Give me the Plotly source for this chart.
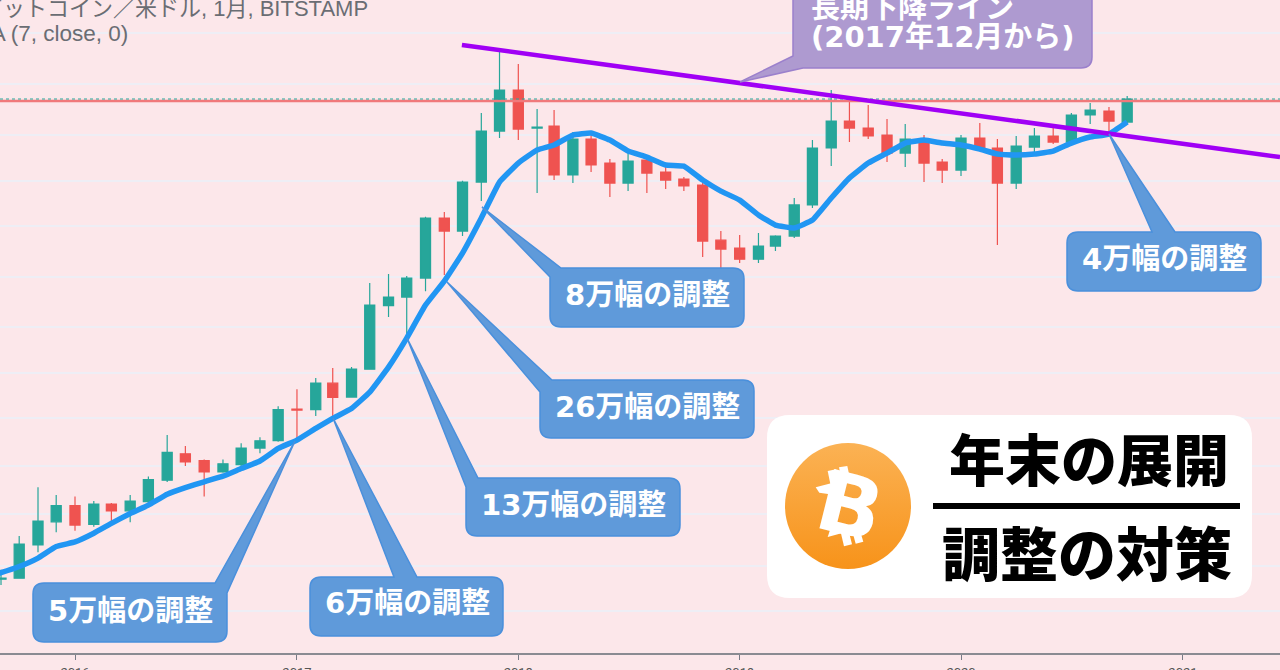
import math
import pandas as pd
import plotly.graph_objects as go

# ---- data (BTC/USD monthly) ----
first_month = "2015-09-01"
opens = [233,235,310,376,430,368,436,412,445,532,663,626,570,606,695,740,
         962,958,1194,1063,1342,2280,2447,2867,4727,4241,6380,9761,
         13737,10010,10178,6769,9129,7475,6327,7663,6935,6540,6227,3933,
         3681,3357,3743,4068,5272,8474,10608,10010,9443,8125,9129,7538,
         7051,9213,8474,6327,8544,9365,8906,11160,11531,10521]
highs = [252,334,502,470,464,447,440,470,548,775,707,632,632,724,760,985,
         1135,1246,1354,1365,2750,2963,2916,4780,4969,6450,11341,19503,
         17069,11722,11627,9680,9761,7727,8400,7727,7357,6653,6487,4240,
         4102,4170,4100,5585,9055,13737,12962,12126,10788,10346,9443,7727,
         9443,10433,9129,9365,10010,10263,11350,12327,11925,13070]
lows = [222,235,292,345,349,361,378,375,440,524,599,464,566,599,666,733,
        743,908,890,1058,1340,2071,1783,2571,2941,4068,5446,9213,
        9055,5821,6487,6327,6935,5632,5919,5821,6017,5919,3415,3089,
        3248,3248,3590,4000,5138,7293,8906,9129,7538,7232,6380,6327,
        6711,8330,3775,6017,7929,8757,8757,10346,9518,10433]
closes = [235,312,378,430,366,436,412,447,535,671,620,570,610,695,739,958,
          954,1194,1060,1342,2289,2447,2867,4727,4241,6380,9761,13737,
          9922,10094,6769,9129,7357,6327,7600,6878,6487,6174,3901,3649,
          3357,3743,4068,5272,8474,10608,10010,9365,8125,9129,7475,7051,
          9213,8400,6327,8618,9365,8906,11160,11627,10608,12742]
ema_first_month = "2015-08-01"
ema7 = [235,246,259,278,306,318,342,371,403,432,473,500,525,550,586,624,693,
        743,819,890,967,1108,1365,1739,2289,2795,3530,4729,6380,
        7475,8330,8688,9443,9600,9055,8262,7860,7357,7290,6487,5919,
        5491,4850,4460,4350,4648,5585,6600,7475,8125,8832,9055,8832,
        8688,8400,8057,7993,8057,8262,8832,9287,9518,10521]
last_price = 12537
last_close = 12750
trend_dates = ["2017-09-30", "2021-06-10"]
trend_prices = [19997, 7860]
grid_levels = [22100,14450,9450,6440,4430,2890,1905,1298,893,598,400,260,179]
x_range = ["2015-08-30 08:00", "2021-06-10"]
y_range_prices = [126.0, 29096]

callouts = [
    ("5万幅の調整", 130, 611, (33, 583, 227, 642), (295, 441), (215, 583), (227, 593), "tr"),
    ("6万幅の調整", 407, 603, (310, 577, 503, 636), (333, 418), (394, 577), (417, 577), "top"),
    ("13万幅の調整", 573, 505, (466, 478, 680, 536), (407, 338), (466, 487), (478, 478), "tl"),
    ("26万幅の調整", 647, 407, (540, 380, 754, 438), (447, 282), (540, 392), (552, 380), "tl"),
    ("8万幅の調整", 647, 295, (550, 268, 744, 327), (482, 207), (550, 277), (561, 268), "tl"),
    ("4万幅の調整", 1164, 259, (1067, 232, 1261, 291), (1109, 134), (1152, 232), (1175, 232), "top"),
]
logo_parts = [
    [(827.7, 471), (836, 469.3), (839.3, 485), (831, 487.3)],
    [(839, 467.3), (847.3, 466), (850.7, 481.7), (842.3, 484)],
    [(840, 529.3), (847.7, 527.3), (852, 544.3), (844, 546.3)],
    [(851, 526.7), (858.3, 525), (863.3, 541.7), (855.7, 543.7)],
    [(815.7, 487.3), (832, 483), (835, 495), (819.3, 492.7)],
    [(827.7, 537), (843.3, 532.7), (841.7, 525), (830, 530)],
]

# ---- helpers ----
CJK = "Noto Sans CJK JP"
WIDE = "DejaVu Sans, Noto Sans CJK JP"
PLAIN = "Liberation Sans, Noto Sans CJK JP"
BLUE, BLUE_EDGE = "#5f9ada", "#4a90dc"
PURPLE, PURPLE_EDGE = "#ae9ad0", "#9b80cc"


def bubble(box, tip=None, b1=None, b2=None, where="", r=11):
    x0, y0, x1, y1 = box
    p = lambda pt: f"{pt[0]},{pt[1]}"
    d = []
    if where == "tl":
        d += [f"M{p(b1)}", f"L{p(tip)}", f"L{p(b2)}"]
    else:
        d += [f"M{x0},{y0+r}", f"Q{x0},{y0} {x0+r},{y0}"]
    if where == "top":
        d += [f"L{p(b1)}", f"L{p(tip)}", f"L{p(b2)}"]
    if where == "tr":
        d += [f"L{p(b1)}", f"L{p(tip)}", f"L{p(b2)}"]
    else:
        d += [f"L{x1-r},{y0}", f"Q{x1},{y0} {x1},{y0+r}"]
    d += [f"L{x1},{y1-r}", f"Q{x1},{y1} {x1-r},{y1}"]
    if where == "bl":
        d += [f"L{p(b2)}", f"L{p(tip)}", f"L{p(b1)}"]
    else:
        d += [f"L{x0+r},{y1}", f"Q{x0},{y1} {x0},{y1-r}"]
    d.append("Z")
    return " ".join(d)


def deco(path, fill, edge=None, width=1.5):
    return dict(type="path", path=path, xref="x2", yref="y2", layer="between",
                fillcolor=fill, line=dict(color=edge or fill, width=width if edge else 0))


def label(text, x, y, size, color="white", weight=700, anchor="center", family=WIDE, angle=0):
    return dict(text=text, x=x, y=y, xref="x2", yref="y2", showarrow=False, xanchor=anchor,
                yanchor="middle", textangle=angle, font=dict(family=family, size=size, color=color, weight=weight))


# ---- traces ----
months = pd.date_range(first_month, periods=len(opens), freq="MS")
ema_months = pd.date_range(ema_first_month, periods=len(ema7), freq="MS")

fig = go.Figure()
fig.add_trace(go.Scatter(x=x_range, y=[last_price, last_price], mode="lines",
                         line=dict(color="#f0797b", width=2.5), hoverinfo="skip"))
fig.add_trace(go.Scatter(x=x_range, y=[last_close, last_close], mode="lines",
                         line=dict(color="#26a69a", width=1, dash="dot"), hoverinfo="skip"))
fig.add_trace(go.Candlestick(
    x=months, open=opens, high=highs, low=lows, close=closes,
    increasing=dict(line=dict(color="#26a69a", width=1.2), fillcolor="#26a69a"),
    decreasing=dict(line=dict(color="#ef5350", width=1.2), fillcolor="#ef5350"),
))
fig.add_trace(go.Scatter(x=ema_months, y=ema7, mode="lines",
                         line=dict(color="#2196f3", width=5.5, shape="spline", smoothing=0.3)))
fig.add_trace(go.Scatter(x=trend_dates, y=trend_prices, mode="lines",
                         line=dict(color="#a000f5", width=4.5)))
# coin on the picture-pixel layer
fig.add_trace(go.Scatter(x=[848], y=[506], xaxis="x2", yaxis="y2", mode="markers",
                         marker=dict(size=126, color="#fbb254", line=dict(width=0),
                                     gradient=dict(type="vertical", color="#f7931a")),
                         hoverinfo="skip"))

# ---- decorations ----
shapes = [
    deco(bubble((767, 415, 1252, 598), r=23), "white"),
    dict(type="rect", xref="x2", yref="y2", x0=933, x1=1240, y0=503, y1=509, layer="between",
         fillcolor="black", line=dict(width=0)),
    deco(bubble((793, -20, 1092, 68), (740, 82), (793, 56), (803, 68), "bl"), PURPLE, PURPLE_EDGE),
]
for part in logo_parts:
    path = "M" + " L".join(f"{px},{py}" for px, py in part) + " Z"
    shapes.append(dict(type="path", path=path, xref="x2", yref="y2", layer="above",
                       fillcolor="white", line=dict(width=0)))
annotations = [
    label("ビットコイン／米ドル, 1月, BITSTAMP", 370, 8, 22, "#6a6d73", 400, "right", PLAIN),
    label("EMA (7, close, 0)", 130, 33, 22.5, "#6a6d73", 400, "right", PLAIN),
    label("長期下降ライン", 809, 8, 29, anchor="left"),
    label("(2017年12月から)", 809, 37, 29, anchor="left"),
    label("B", 850, 506, 84, "white", 700, family="DejaVu Sans", angle=14),
    label("年末の展開", 1089, 456, 56, "black", 900, family=CJK),
    label("調整の対策", 1087, 551, 58, "black", 900, family=CJK),
]
for text, tx, ty, box, tip, b1, b2, where in callouts:
    shapes.append(deco(bubble(box, tip, b1, b2, where), BLUE, BLUE_EDGE))
    annotations.append(label(text, tx, ty, 29))

fig.update_layout(
    width=1280, height=670, margin=dict(l=0, r=0, t=0, b=17, autoexpand=False),
    paper_bgcolor="#fce7ea", plot_bgcolor="rgba(0,0,0,0)", boxgap=0.15,
    showlegend=False, hovermode=False, shapes=shapes, annotations=annotations,
    xaxis=dict(type="date", range=x_range, rangeslider=dict(visible=False), showgrid=False,
               tick0="2016-01-01", dtick="M12", tickformat="%Y", ticks="outside", ticklen=5,
               automargin=False,
               tickcolor="#787b86", showline=True, linecolor="#8a8b92", linewidth=1.5,
               ticklabelstandoff=2, tickfont=dict(family="Roboto", size=13, color="#555")),
    yaxis=dict(type="log", range=[math.log10(v) for v in y_range_prices], tickvals=grid_levels,
               automargin=False,
               showticklabels=False, ticks="", showgrid=True, gridcolor="#eeeef5", gridwidth=1.5,
               zeroline=False, showline=False),
    xaxis2=dict(anchor="y2", range=[0, 1280], visible=False, domain=[0, 1], automargin=False),
    yaxis2=dict(anchor="x2", range=[653, 0], visible=False, domain=[0, 1], automargin=False),
)

fig.write_html("out.html", config={"displayModeBar": False},
               post_script="document.body.style.margin='0';document.body.style.overflow='hidden';")
